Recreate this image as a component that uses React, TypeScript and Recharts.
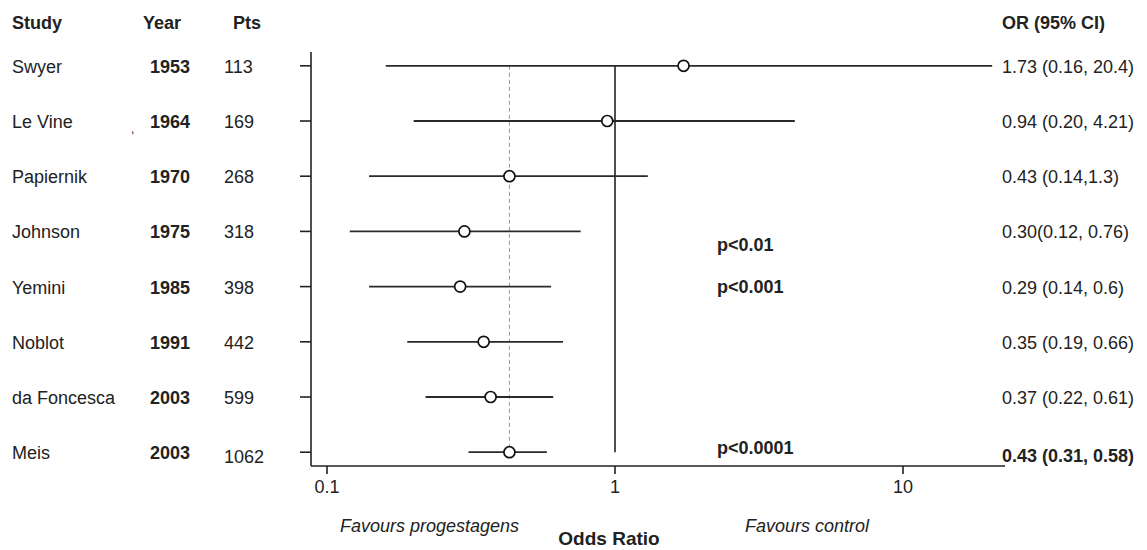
import React from "react";
import { ScatterChart, Scatter, XAxis, YAxis, ReferenceLine } from "recharts";

const studies = ["Swyer", "Le Vine", "Papiernik", "Johnson", "Yemini", "Noblot", "da Foncesca", "Meis"];
const years = [1953, 1964, 1970, 1975, 1985, 1991, 2003, 2003];
const patients = [113, 169, 268, 318, 398, 442, 599, 1062];
const oddsRatio = [1.73, 0.94, 0.43, 0.3, 0.29, 0.35, 0.37, 0.43];
const ciLow = [0.16, 0.2, 0.14, 0.12, 0.14, 0.19, 0.22, 0.31];
const ciHigh = [20.4, 4.21, 1.3, 0.76, 0.6, 0.66, 0.61, 0.58];
const ciLabels = [
  "1.73 (0.16, 20.4)",
  "0.94 (0.20, 4.21)",
  "0.43 (0.14,1.3)",
  "0.30(0.12, 0.76)",
  "0.29 (0.14, 0.6)",
  "0.35 (0.19, 0.66)",
  "0.37 (0.22, 0.61)",
  "0.43 (0.31, 0.58)",
];
const pooledOR = 0.43;
const xTicks = [0.1, 1, 10];
const rows = studies.map((_, i) => i + 1);

const points = studies.map((s, i) => ({
  study: s,
  row: i + 1,
  or: oddsRatio[i],
  lo: ciLow[i],
  hi: ciHigh[i],
}));

const FONT = '"Liberation Sans", Arial, Helvetica, sans-serif';
const INK = "#222";

// one tick per study row: table columns on the left, OR text on the right
function RowTick(props: any) {
  const { y, payload } = props;
  const i = payload.value - 1;
  const last = i === studies.length - 1;
  return (
    <g fontFamily={FONT} fontSize={18} fill={INK}>
      <text x={12} y={y} dy={7}>
        {studies[i]}
      </text>
      <text x={170} y={y} dy={7} textAnchor="middle" fontWeight="bold">
        {years[i]}
      </text>
      <text x={224} y={y} dy={last ? 11 : 7}>
        {patients[i]}
      </text>
      <text x={1002} y={y} dy={last ? 10 : 7} fontWeight={last ? "bold" : "normal"}>
        {ciLabels[i]}
      </text>
    </g>
  );
}

function Dot(props: any) {
  const { cx, cy } = props;
  return <circle cx={cx} cy={cy} r={5.5} fill="#fff" stroke="#111" strokeWidth={1.7} />;
}

export default function App() {
  return (
    <div style={{ position: "absolute", left: 0, top: 0, width: 1147, height: 550, background: "#fff" }}>
      <ScatterChart width={1147} height={550} margin={{ top: 52, right: 142, bottom: 0, left: 0 }}>
        <XAxis
          type="number"
          dataKey="or"
          scale="log"
          domain={[0.088, 22.6]}
          allowDataOverflow
          ticks={xTicks}
          tickFormatter={(v: number) => String(v)}
          height={84}
          tickSize={8}
          tickMargin={6}
          axisLine={{ stroke: INK, strokeWidth: 1.6 }}
          tickLine={{ stroke: INK, strokeWidth: 1.6 }}
          tick={{ fontSize: 18, fill: INK, fontFamily: FONT }}
        />
        <YAxis
          type="number"
          dataKey="row"
          domain={[0.75, 8.25]}
          reversed
          ticks={rows}
          interval={0}
          width={311}
          tickSize={11}
          axisLine={{ stroke: INK, strokeWidth: 1.6 }}
          tickLine={{ stroke: INK, strokeWidth: 1.6 }}
          tick={(p: any) => <RowTick {...p} />}
        />
        <ReferenceLine
          segment={[{ x: pooledOR, y: 1 }, { x: pooledOR, y: rows.length }]}
          stroke="#999"
          strokeDasharray="4 3"
          ifOverflow="visible"
        />
        <ReferenceLine
          segment={[{ x: 1, y: 1 }, { x: 1, y: rows.length }]}
          stroke={INK}
          strokeWidth={1.6}
          ifOverflow="visible"
        />
        {points.map((p) => (
          <ReferenceLine
            key={p.study}
            segment={[{ x: p.lo, y: p.row }, { x: p.hi, y: p.row }]}
            stroke="#2a2a2a"
            strokeWidth={1.8}
            ifOverflow="visible"
          />
        ))}
        <Scatter data={points} shape={(p: any) => <Dot {...p} />} isAnimationActive={false} />
      </ScatterChart>
      <svg
        width={1147}
        height={550}
        style={{ position: "absolute", left: 0, top: 0, pointerEvents: "none" }}
        fontFamily={FONT}
        fontSize={18}
        fill={INK}
      >
        <g fontWeight="bold">
          <text x={12} y={29}>Study</text>
          <text x={143} y={29}>Year</text>
          <text x={233} y={29}>Pts</text>
          <text x={1002} y={29}>OR (95% CI)</text>
          <text x={717} y={251}>p&lt;0.01</text>
          <text x={717} y={293}>p&lt;0.001</text>
          <text x={717} y={454}>p&lt;0.0001</text>
        </g>
        <text x={131} y={133} fontSize={12}>,</text>
        <text x={340} y={532} fontStyle="italic">Favours progestagens</text>
        <text x={745} y={532} fontStyle="italic">Favours control</text>
        <text x={609} y={545} fontSize={19} fontWeight="bold" textAnchor="middle">Odds Ratio</text>
      </svg>
    </div>
  );
}
